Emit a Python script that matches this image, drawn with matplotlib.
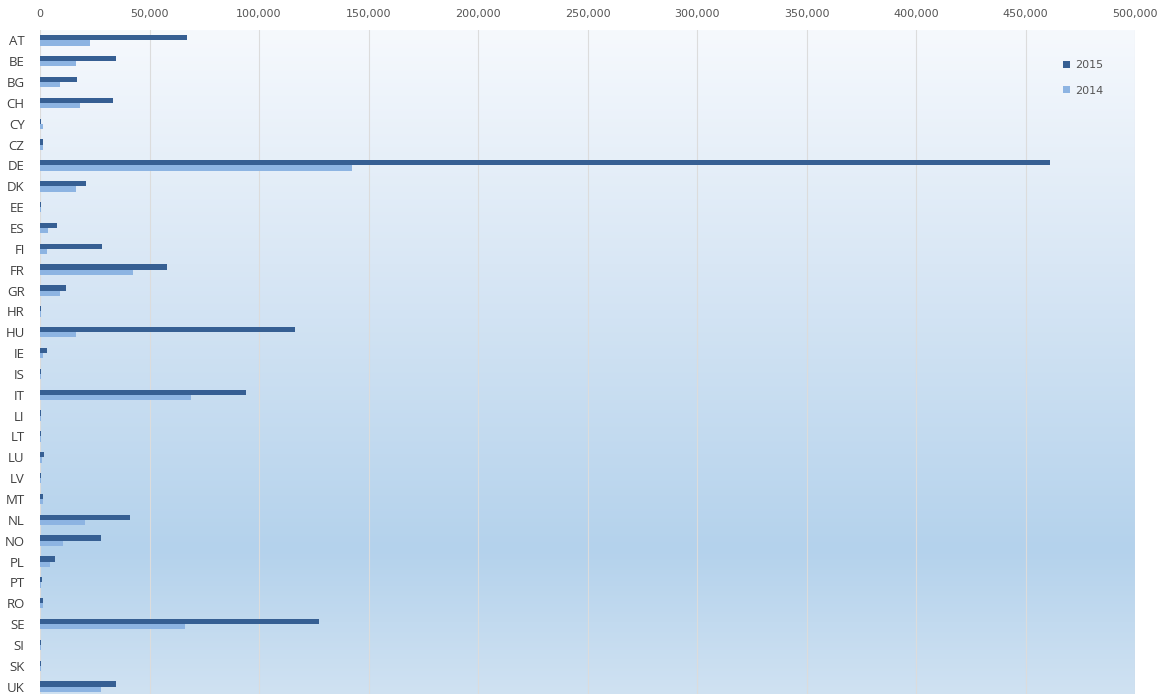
import matplotlib

matplotlib.use("Agg")

import matplotlib.pyplot as plt
import numpy as np
from matplotlib.colors import LinearSegmentedColormap

countries = [
    "AT", "BE", "BG", "CH", "CY", "CZ", "DE", "DK", "EE", "ES",
    "FI", "FR", "GR", "HR", "HU", "IE", "IS", "IT", "LI", "LT",
    "LU", "LV", "MT", "NL", "NO", "PL", "PT", "RO", "SE", "SI",
    "SK", "UK",
]

# values
apps_2015 = [
    67000, 34800, 17000, 33500, 600, 1400, 461000, 20900, 400, 7900,
    28200, 58100, 11700, 400, 116400, 3200, 400, 93900, 300, 400,
    2000, 400, 1400, 41000, 27900, 6700, 900, 1300, 127200, 500,
    500, 34800,
]
apps_2014 = [
    22800, 16400, 9000, 18400, 1400, 1200, 142300, 16400, 300, 3800,
    3000, 42300, 9000, 500, 16400, 1400, 300, 68800, 300, 500,
    1100, 500, 1300, 20500, 10500, 4400, 500, 1500, 66100, 500,
    400, 27900,
]
x_ticks = np.arange(0, 500001, 50000)

dark = "#365F93"
light = "#8DB4E2"

fig = plt.figure(figsize=(11.6, 6.94), dpi=100)
ax = fig.add_axes([40 / 1160, -3 / 694, 1095 / 1160, 667 / 694])

# vertical background gradient (light top, blue lower middle, lighter bottom)
cmap = LinearSegmentedColormap.from_list(
    "bg",
    [(0.0, "#F6F9FD"), (0.35, "#D9E7F5"), (0.78, "#B4D2EC"), (1.0, "#D0E2F2")],
)
grad = np.linspace(0, 1, 256).reshape(-1, 1)
ax.imshow(grad, cmap=cmap, aspect="auto", extent=[0, 1, 0, 1],
          transform=ax.transAxes, zorder=0)

y = np.arange(len(countries))
h = 0.25
ax.barh(y - h / 2, apps_2015, height=h, color=dark, label="2015", zorder=3)
ax.barh(y + h / 2, apps_2014, height=h, color=light, label="2014", zorder=3)

ax.set_xlim(0, 500000)
ax.set_ylim(len(countries) - 0.5, -0.5)
ax.set_xticks(x_ticks)
ax.set_xticklabels([f"{v:,}" for v in x_ticks])
ax.xaxis.tick_top()
ax.set_yticks(y)
ax.set_yticklabels(countries)
ax.tick_params(axis="x", length=0, pad=8, labelsize=8, labelcolor="#555555")
ax.tick_params(axis="y", length=0, pad=11, labelsize=9.5, labelcolor="#404040")
for lab in ax.get_yticklabels():
    lab.set_family("Open Sans")
ax.grid(axis="x", color="#DCDCDC", linewidth=0.8, zorder=1)
ax.set_axisbelow(True)
for s in ax.spines.values():
    s.set_visible(False)

leg = ax.legend(loc="upper left", bbox_to_anchor=(0.925, 0.97), frameon=False,
                fontsize=8, handlelength=0.6, handleheight=0.6,
                labelspacing=1.4, handletextpad=0.5)
for t in leg.get_texts():
    t.set_color("#555555")

fig.savefig("out.png", dpi=100)
